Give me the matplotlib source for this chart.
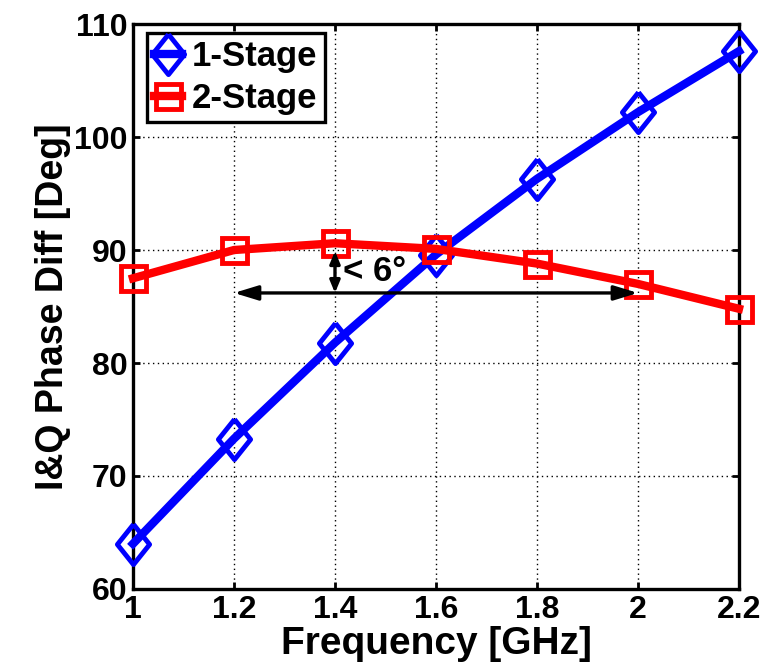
import numpy as np
import matplotlib
matplotlib.use('Agg')
import matplotlib.pyplot as plt
from matplotlib.ticker import FormatStrFormatter

# data
freq = [1.0, 1.2, 1.4, 1.6, 1.8, 2.0, 2.2]
stage1 = [64.0, 73.3, 81.8, 89.6, 96.3, 102.2, 107.6]
stage2 = [87.5, 90.0, 90.6, 90.1, 88.8, 87.0, 84.8]
labels = ['1-Stage', '2-Stage']
xticks = [1, 1.2, 1.4, 1.6, 1.8, 2, 2.2]
yticks = [60, 70, 80, 90, 100, 110]

# annotation: spread band
span_x = [1.2, 2.0]
span_y = 86.2
spread_x = 1.4
spread_top = 89.9
spread_text = '< 6°'

plt.rcParams['font.family'] = ['Liberation Sans', 'DejaVu Sans']
plt.rcParams['font.weight'] = 'bold'

fig = plt.figure(figsize=(7.75, 6.68), dpi=100)
ax = fig.add_subplot(111)
fig.subplots_adjust(left=0.1716, right=0.9535, bottom=0.1183, top=0.964)

diamond = [(0, 1), (0.8, 0), (0, -1), (-0.8, 0), (0, 1)]
ax.plot(freq, stage1, color='#0000ff', lw=6, marker=diamond, ms=29,
        mew=3.5, mfc='none', mec='#0000ff', label=labels[0], zorder=3,
        clip_on=False)
ax.plot(freq, stage2, color='#ff0000', lw=6, marker='s', ms=18,
        mew=3.5, mfc='none', mec='#ff0000', label=labels[1], zorder=4,
        clip_on=False)

# arrows
ax.annotate('', xy=(span_x[0], span_y), xytext=(span_x[1], span_y),
            arrowprops=dict(arrowstyle='<|-|>,head_length=0.72,head_width=0.22',
                            color='k', lw=2.4, mutation_scale=20,
                            shrinkA=0, shrinkB=0), zorder=5)
ax.annotate('', xy=(spread_x, spread_top), xytext=(spread_x, span_y),
            arrowprops=dict(arrowstyle='<|-|>,head_length=0.6,head_width=0.25',
                            color='k', lw=2.4, mutation_scale=12,
                            shrinkA=0, shrinkB=0), zorder=5)
ax.text(spread_x + 0.016, 88.1, spread_text, fontsize=25, fontweight='bold',
        va='center', ha='left', zorder=6)

ax.set_xlim(1, 2.2)
ax.set_ylim(60, 110)
ax.set_xticks(xticks)
ax.set_yticks(yticks)
ax.xaxis.set_major_formatter(FormatStrFormatter('%g'))
ax.grid(True, color='k', linestyle=(0, (1, 2.5)), lw=1.0)
ax.tick_params(direction='in', top=True, right=True, length=5, width=2,
               labelsize=23, pad=4)
for lab in ax.get_xticklabels() + ax.get_yticklabels():
    lab.set_fontweight('bold')
for s in ax.spines.values():
    s.set_linewidth(2.4)
    s.set_zorder(2.5)

ax.set_xlabel('Frequency [GHz]', fontsize=28, fontweight='bold', labelpad=1)
ax.set_ylabel('I&Q Phase Diff [Deg]', fontsize=27, fontweight='bold', labelpad=2)

leg = ax.legend(loc='upper left', bbox_to_anchor=(0.023, 0.984), borderaxespad=0,
                handlelength=0.8, handletextpad=0.3, borderpad=0.2,
                labelspacing=0.25, fancybox=False, markerscale=1.0,
                prop={'weight': 'bold', 'size': 25})
leg.get_frame().set_edgecolor('k')
leg.get_frame().set_linewidth(2.4)
leg.get_frame().set_alpha(1)
leg.set_zorder(10)

fig.savefig('out.png', dpi=100)
